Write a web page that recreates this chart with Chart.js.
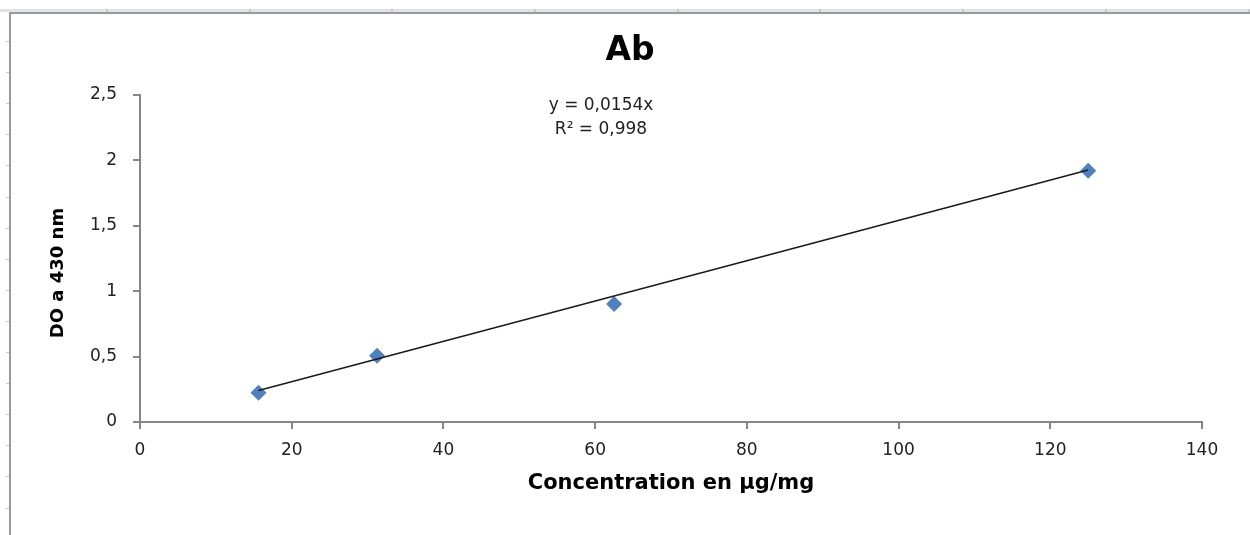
<!DOCTYPE html>
<html>
<head>
<meta charset="utf-8">
<script src="https://cdn.jsdelivr.net/npm/chart.js@4.4.1/dist/chart.umd.min.js"></script>
<style>
    body { margin: 0; background: #fff; }
    #sheet-top {
        position: absolute; left: 0; top: 9px; width: 1250px; height: 3px;
        background: repeating-linear-gradient(to right, #dfe4ea 0 106px, #c4cad2 106px 108px, #dfe4ea 108px 142.7px);
    }
    #sheet-rows {
        position: absolute; left: 6px; top: 11px; width: 3px; height: 524px;
        background: repeating-linear-gradient(to bottom, transparent 0 30px, #c8ccd2 30px 31.1px);
    }
    #frame {
        position: absolute; left: 9px; top: 12px; width: 1260px; height: 540px;
        border-left: 2px solid #9a9a9a; border-top: 2px solid #9a9a9a;
    }
    canvas { position: absolute; left: 0; top: 0; }
</style>
</head>
<body>
<div id="sheet-top"></div>
<div id="sheet-rows"></div>
<div id="frame"></div>
<canvas id="absorbanceChart" width="1250" height="535"></canvas>
<script>
const concentrations = [15.625, 31.25, 62.5, 125];
const absorbances = [0.224, 0.507, 0.902, 1.921];
// trendline end points as drawn in the original
const trendX = [15.625, 125];
const trendY = [0.241, 1.927];
const xTickValues = [0, 20, 40, 60, 80, 100, 120, 140];
const yTickValues = [0, 0.5, 1, 1.5, 2, 2.5];
const chartTitle = 'Ab';
const equationLines = ['y = 0,0154x', 'R\u00b2 = 0,998'];

const axisColor = '#868686';
const textColor = '#222';

const chartTextPlugin = {
    id: 'chartText',
    afterDraw(chart) {
        const { ctx, chartArea } = chart;
        ctx.save();
        ctx.textAlign = 'center';
        ctx.textBaseline = 'middle';

        // title, centred on the frame rather than the plot
        ctx.fillStyle = '#000';
        ctx.font = 'bold 33px "DejaVu Sans"';
        ctx.fillText(chartTitle, 630, chartArea.top - 44);

        // trendline equation
        ctx.fillStyle = textColor;
        ctx.font = '17px "DejaVu Sans"';
        ctx.fillText(equationLines[0], chartArea.left + 461, chartArea.top + 11);
        ctx.fillText(equationLines[1], chartArea.left + 461, chartArea.top + 35);

        // y axis title
        ctx.font = 'bold 18px "DejaVu Sans"';
        ctx.fillStyle = '#000';
        ctx.translate(58, chartArea.top + 178);
        ctx.rotate(-Math.PI / 2);
        ctx.fillText('DO a 430 nm', 0, 0);
        ctx.restore();
    }
};

const ctx = document.getElementById('absorbanceChart').getContext('2d');

new Chart(ctx, {
    type: 'scatter',
    data: {
        datasets: [
            {
                label: 'Linéaire',
                data: trendX.map((x, i) => ({ x: x, y: trendY[i] })),
                showLine: true,
                borderColor: '#1a1a1a',
                borderWidth: 1.5,
                pointRadius: 0
            },
            {
                label: 'Ab',
                data: concentrations.map((x, i) => ({ x: x, y: absorbances[i] })),
                pointStyle: 'rectRot',
                pointRadius: 8,
                pointBorderWidth: 0,
                backgroundColor: '#4f81bd',
                borderColor: '#4f81bd'
            }
        ]
    },
    options: {
        responsive: false,
        animation: false,
        layout: { padding: { left: 0, right: 48, top: 95, bottom: 0 } },
        plugins: {
            legend: { display: false },
            tooltip: { enabled: false },
            title: { display: false }
        },
        scales: {
            x: {
                type: 'linear',
                position: 'bottom',
                min: 0,
                max: 140,
                afterBuildTicks: scale => { scale.ticks = xTickValues.map(v => ({ value: v })); },
                afterFit: scale => { scale.height = 113; },
                border: { color: axisColor, width: 2 },
                grid: { drawOnChartArea: false, tickLength: 7, color: axisColor, lineWidth: 2 },
                ticks: {
                    color: textColor,
                    padding: 11,
                    maxRotation: 0,
                    font: { family: '"DejaVu Sans"', size: 17 }
                },
                title: {
                    display: true,
                    text: 'Concentration en µg/mg',
                    color: '#000',
                    font: { family: '"DejaVu Sans"', size: 21, weight: 'bold' },
                    padding: { top: 0, bottom: 38.4 }
                }
            },
            y: {
                type: 'linear',
                min: 0,
                max: 2.5,
                afterBuildTicks: scale => { scale.ticks = yTickValues.map(v => ({ value: v })); },
                afterFit: scale => { scale.width = 140; },
                border: { color: axisColor, width: 2 },
                grid: { drawOnChartArea: false, tickLength: 7, color: axisColor, lineWidth: 2 },
                ticks: {
                    color: textColor,
                    padding: 16,
                    font: { family: '"DejaVu Sans"', size: 17 },
                    callback: value => String(value).replace('.', ',')
                }
            }
        }
    },
    plugins: [chartTextPlugin]
});
</script>
</body>
</html>
